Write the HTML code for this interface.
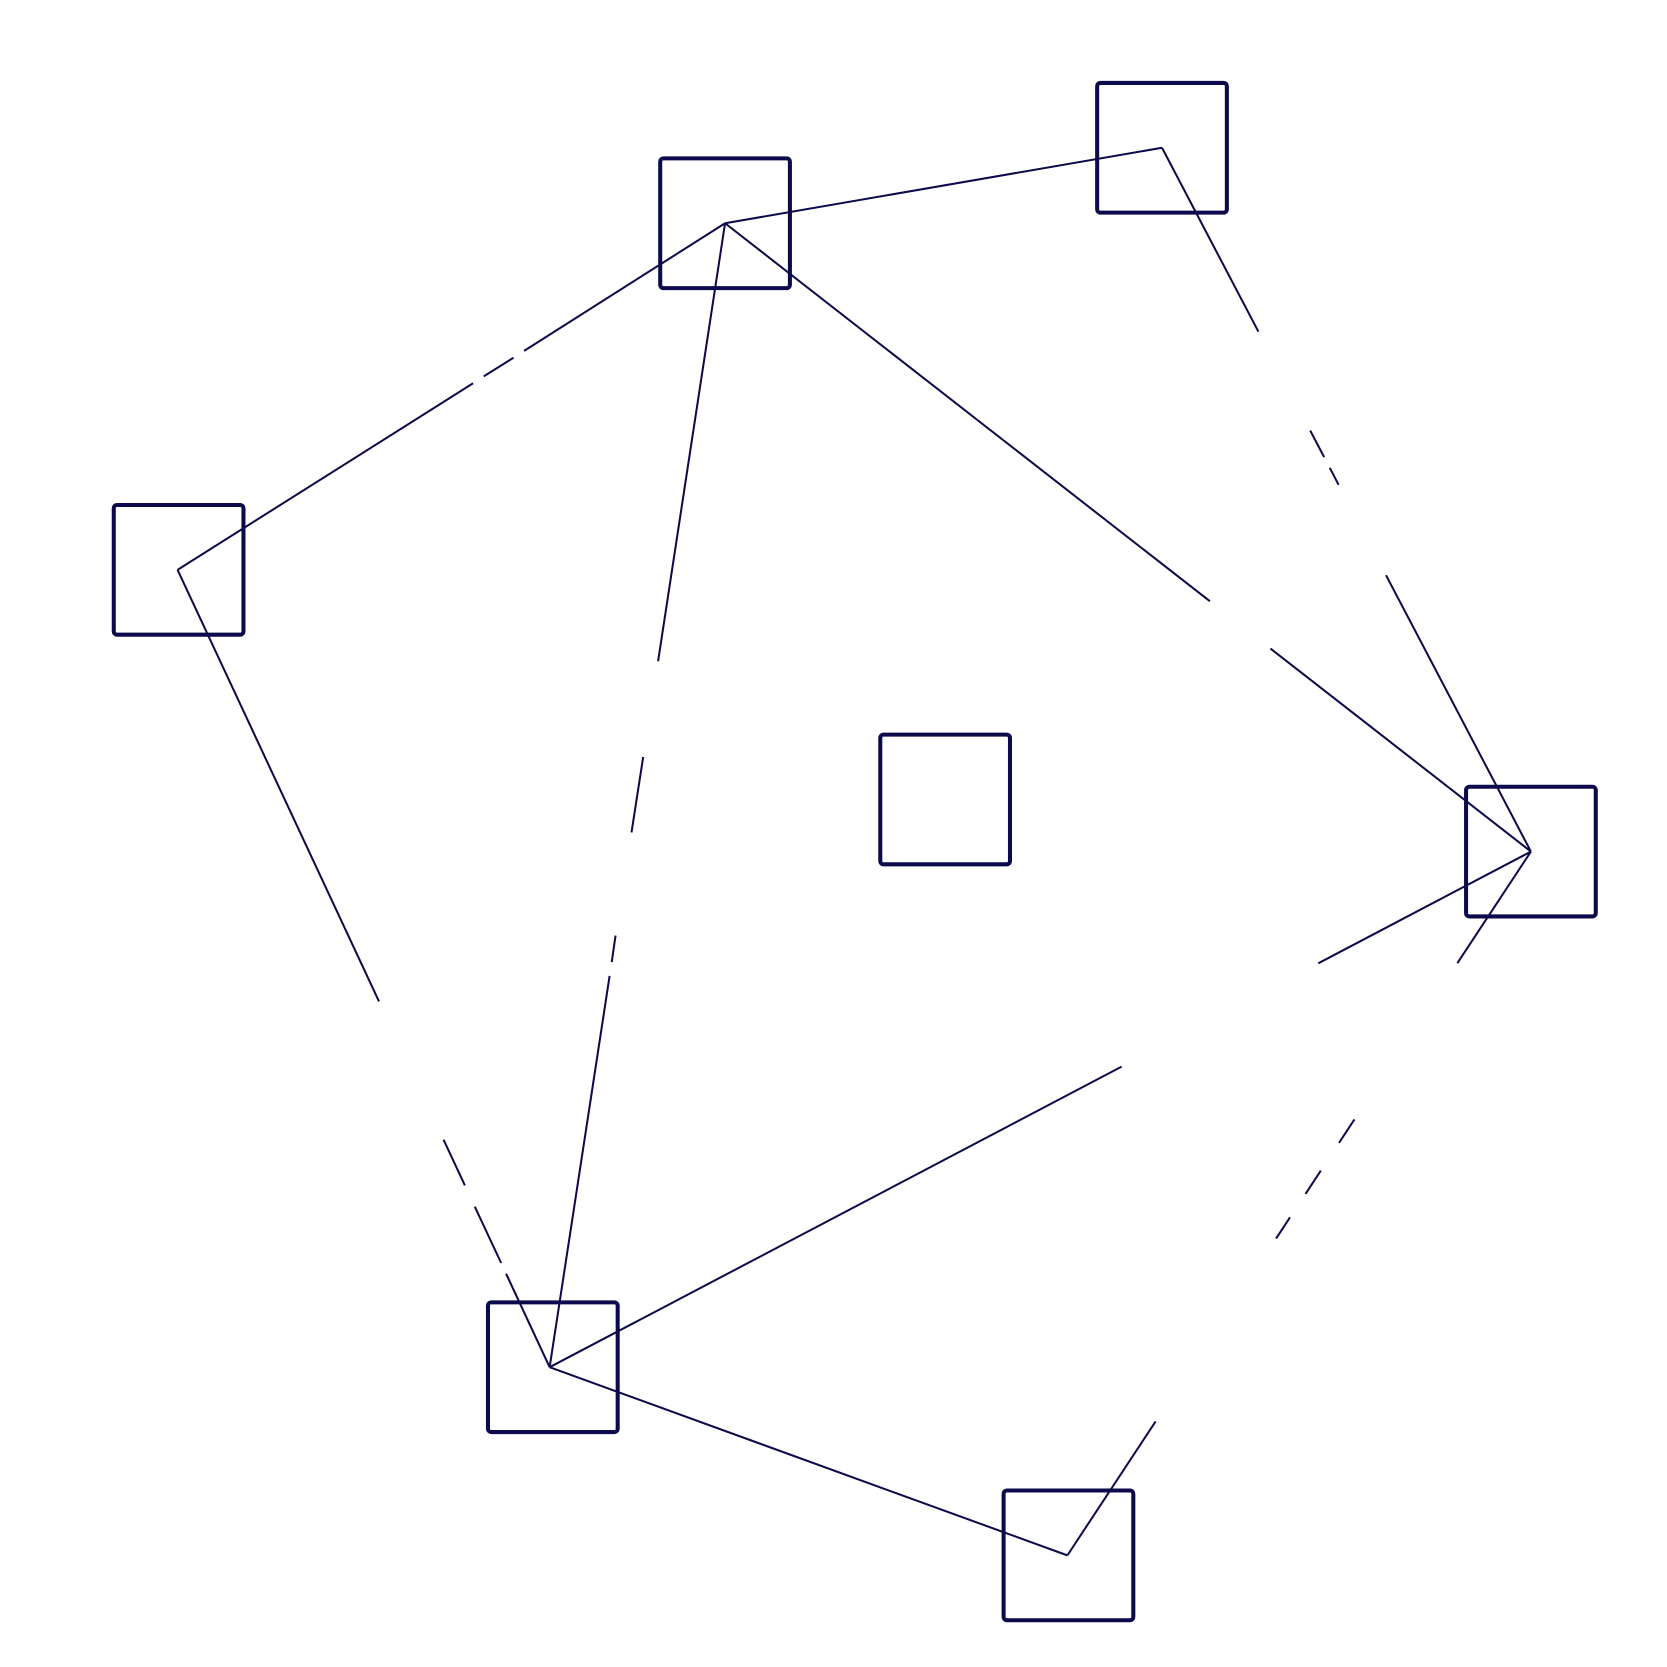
<!DOCTYPE html>
<html><head><meta charset="utf-8"><style>html,body{margin:0;padding:0;background:#fff}svg{display:block}</style></head>
<body>
<svg width="1667" height="1667" viewBox="0 0 1568 1568" xmlns="http://www.w3.org/2000/svg">
<g stroke="#0b0a4a" stroke-width="1.9" fill="none" stroke-linecap="butt">
<line x1="682" y1="210" x2="1093" y2="139"/>
<line x1="167" y1="536" x2="445" y2="360.5"/>
<line x1="455" y1="354" x2="483" y2="336.5"/>
<line x1="493" y1="330" x2="682" y2="210"/>
<line x1="682" y1="210" x2="619" y2="622"/>
<line x1="605" y1="712" x2="594" y2="783"/>
<line x1="579" y1="880" x2="575.4" y2="905"/>
<line x1="573.4" y1="918" x2="517" y2="1286"/>
<line x1="682" y1="210" x2="1138" y2="565.5"/>
<line x1="1195" y1="610" x2="1440" y2="801"/>
<line x1="1093" y1="139" x2="1183.7" y2="312"/>
<line x1="1232.4" y1="405" x2="1245.5" y2="430"/>
<line x1="1250.8" y1="440" x2="1259.1" y2="456"/>
<line x1="1303.7" y1="541" x2="1440" y2="801"/>
<line x1="167" y1="536" x2="356.5" y2="942"/>
<line x1="417.2" y1="1072" x2="437.3" y2="1115"/>
<line x1="446.6" y1="1135" x2="471.4" y2="1188"/>
<line x1="476" y1="1198" x2="517" y2="1286"/>
<line x1="517" y1="1286" x2="1055" y2="1003.3"/>
<line x1="1240" y1="906.1" x2="1440" y2="801"/>
<line x1="517" y1="1286" x2="1004" y2="1463"/>
<line x1="1440" y1="801" x2="1370.8" y2="906"/>
<line x1="1274" y1="1053" x2="1259.5" y2="1075"/>
<line x1="1242.4" y1="1101" x2="1228" y2="1123"/>
<line x1="1213.4" y1="1145" x2="1200.3" y2="1165"/>
<line x1="1087" y1="1337" x2="1004" y2="1463"/>
</g>
<g stroke="#0b0a4a" stroke-width="3.8" fill="none">
<rect x="621" y="149" width="122" height="122" rx="3"/>
<rect x="1032" y="78" width="122" height="122" rx="3"/>
<rect x="107" y="475" width="122" height="122" rx="3"/>
<rect x="828" y="691" width="122" height="122" rx="3"/>
<rect x="1379" y="740" width="122" height="122" rx="3"/>
<rect x="459" y="1225" width="122" height="122" rx="3"/>
<rect x="944" y="1402" width="122" height="122" rx="3"/>
</g>
</svg>
</body></html>
